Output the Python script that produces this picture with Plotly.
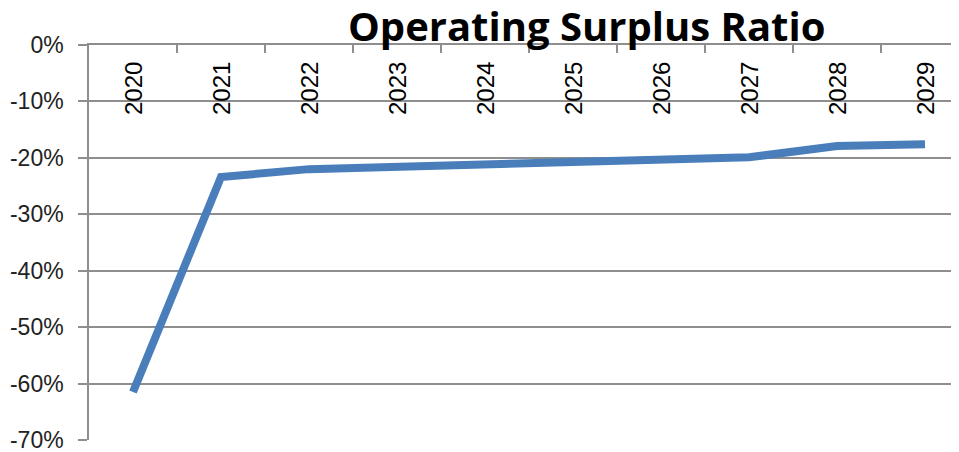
import plotly.graph_objects as go

years = ["2020", "2021", "2022", "2023", "2024", "2025", "2026", "2027", "2028", "2029"]
ratio = [-61.5, -23.4, -22.0, -21.6, -21.2, -20.8, -20.3, -19.9, -17.9, -17.6]
y_tick_vals = [0, -10, -20, -30, -40, -50, -60, -70]
y_tick_text = ["0%", "-10%", "-20%", "-30%", "-40%", "-50%", "-60%", "-70%"]

OFF = 8  # page body margin
W, H = 959 - OFF, 452 - OFF
L, R, T, B = 89 - OFF, 0, 45 - OFF, 12
PW, PH = W - L - R, H - T - B

grid = "#8e8e8e"
fig = go.Figure(go.Scatter(
    x=years, y=ratio, mode="lines",
    line=dict(color="#4a7ebb", width=8),
    hoverinfo="skip"))

annotations = [dict(text="<b>Operating Surplus Ratio</b>",
                    x=(586 - OFF - L) / PW, y=1 + (T - 18) / PH,
                    xref="paper", yref="paper", showarrow=False,
                    font=dict(family="Open Sans", size=40, color="black"),
                    xanchor="center", yanchor="middle")]
for i, yr in enumerate(years):
    annotations.append(dict(text=yr, x=i, xref="x",
                            y=1 - (89 - 45) / PH, yref="paper",
                            textangle=-90, showarrow=False,
                            xanchor="center", yanchor="middle",
                            font=dict(family="Liberation Sans", size=24, color="#000000")))

fig.update_layout(
    width=W, height=H,
    margin=dict(l=L, r=R, t=T, b=B, autoexpand=False),
    paper_bgcolor="white", plot_bgcolor="white",
    showlegend=False,
    annotations=annotations,
)

fig.update_xaxes(
    type="category", side="top", automargin=False,
    range=[-0.5, 9.5 - 10 / 88],
    showline=True, linecolor=grid, linewidth=1.5,
    ticks="inside", tickson="boundaries", ticklen=8, tickcolor=grid, tickwidth=1.5,
    showticklabels=False,
    showgrid=False, zeroline=False,
)
fig.update_yaxes(
    range=[-70, 0], automargin=False,
    tickvals=y_tick_vals, ticktext=y_tick_text,
    showline=True, linecolor=grid, linewidth=1.5,
    ticks="outside", ticklen=9, tickcolor=grid, tickwidth=1.5,
    ticklabelstandoff=10, ticklabeloverflow="allow",
    showgrid=True, gridcolor=grid, gridwidth=1.5,
    zeroline=False,
    tickfont=dict(size=23, color="#222222", family="Liberation Sans"),
)

fig.write_html("out.html")
